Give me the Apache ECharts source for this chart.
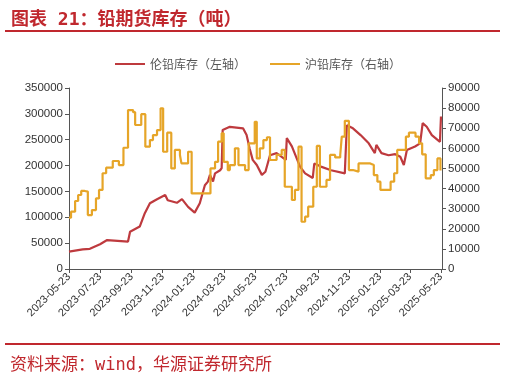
<!DOCTYPE html>
<html>
<head>
<meta charset="utf-8">
<script src="https://cdn.jsdelivr.net/npm/echarts@6/dist/echarts.min.js"></script>
<style>
html,body{margin:0;padding:0;background:#fff;}
#c{width:506px;height:377px;}
</style>
</head>
<body>
<div id="c"></div>
<script>
// LME lead stock (left axis, tonnes)
var lmeDates = ['2023-05-23','2023-06-19','2023-07-03','2023-07-23','2023-08-06','2023-09-16','2023-09-20','2023-10-09','2023-10-19','2023-10-29','2023-11-12','2023-11-28','2023-12-03','2023-12-21','2023-12-31','2024-01-12','2024-01-25','2024-02-04','2024-02-14','2024-02-20','2024-02-24','2024-03-01','2024-03-05','2024-03-15','2024-03-18','2024-03-20','2024-04-03','2024-04-29','2024-05-06','2024-05-12','2024-05-18','2024-05-26','2024-06-05','2024-06-12','2024-06-21','2024-07-04','2024-07-14','2024-07-22','2024-07-24','2024-08-03','2024-08-19','2024-08-29','2024-09-13','2024-09-16','2024-09-29','2024-10-19','2024-11-15','2024-11-19','2024-12-01','2024-12-16','2025-01-01','2025-01-13','2025-01-16','2025-01-26','2025-02-09','2025-02-22','2025-03-04','2025-03-11','2025-03-17','2025-04-02','2025-04-12','2025-04-17','2025-04-25','2025-05-05','2025-05-21','2025-05-23'];
var lmeValues = [33500,38000,39000,48000,56000,53000,72000,82000,108000,127000,135000,143000,133000,128000,135000,120000,109000,127000,162000,169000,182000,169000,185000,191000,195000,269000,275000,272000,259000,233000,211000,201000,182000,188000,220000,224000,217000,211000,253000,237000,198000,185000,176000,204000,198000,191000,185000,278000,272000,259000,243000,224000,240000,224000,220000,222000,217000,201000,230000,237000,243000,282000,275000,259000,246000,295000];

// SHFE lead stock (right axis, tonnes)
var shfeDates = ['2023-05-23','2023-05-27','2023-06-04','2023-06-10','2023-06-16','2023-06-23','2023-06-29','2023-07-07','2023-07-15','2023-07-21','2023-07-28','2023-08-04','2023-08-17','2023-08-29','2023-09-07','2023-09-16','2023-09-26','2023-09-30','2023-10-12','2023-10-20','2023-10-29','2023-11-04','2023-11-12','2023-11-19','2023-11-24','2023-12-02','2023-12-10','2023-12-17','2023-12-27','2023-12-30','2024-01-12','2024-01-19','2024-02-25','2024-03-05','2024-03-11','2024-03-18','2024-03-22','2024-03-30','2024-04-03','2024-04-13','2024-04-20','2024-05-03','2024-05-10','2024-05-22','2024-05-26','2024-06-01','2024-06-08','2024-06-15','2024-06-21','2024-07-04','2024-07-14','2024-07-20','2024-08-03','2024-08-09','2024-08-16','2024-08-22','2024-08-29','2024-09-04','2024-09-14','2024-09-21','2024-09-27','2024-10-10','2024-10-17','2024-10-27','2024-11-06','2024-11-09','2024-11-15','2024-11-23','2024-12-01','2024-12-12','2025-01-04','2025-01-11','2025-01-18','2025-01-24','2025-02-13','2025-02-20','2025-02-26','2025-03-15','2025-03-21','2025-04-03','2025-04-10','2025-04-16','2025-04-23','2025-05-03','2025-05-09','2025-05-16','2025-05-22','2025-05-23'];
var shfeValues = [25500,28500,33800,36800,38800,38500,26800,29300,35100,39300,47600,50400,53700,51700,60300,79000,78000,71600,77000,60800,64100,66600,69100,79900,58300,67800,50000,59200,56700,52500,58300,37600,50000,53300,63300,67500,53300,49200,51700,60000,51700,49200,62500,73200,55000,60000,64100,65500,54200,56700,59200,40900,34300,39300,60800,23500,26000,31000,40900,61200,40900,44300,56700,55500,56700,65800,73700,49200,48400,52500,51700,46700,43400,39300,43400,47600,59200,65800,67800,65800,62500,57000,45100,46700,49200,55000,49000,49000];

var tickDates = ['2023-05-23','2023-07-23','2023-09-23','2023-11-23','2024-01-23','2024-03-23','2024-05-23','2024-07-23','2024-09-23','2024-11-23','2025-01-23','2025-03-23','2025-05-23'];

function ts(s){var p=s.split('-');return Date.UTC(+p[0],+p[1]-1,+p[2]);}
function pad(n){return n<10?'0'+n:''+n;}
function fmt(v){var d=new Date(v);return d.getUTCFullYear()+'-'+pad(d.getUTCMonth()+1)+'-'+pad(d.getUTCDate());}

var lmeData = lmeDates.map(function(d,i){return [ts(d), lmeValues[i]];});
var shfeData = shfeDates.map(function(d,i){return [ts(d), shfeValues[i]];});
var tickVals = tickDates.map(ts);

var RED = '#BE3A3E', YEL = '#E6A528', TITLE = '#C0282E';
var chart = echarts.init(document.getElementById('c'), null, {renderer:'canvas'});
chart.setOption({
  animation:false,
  backgroundColor:'#fff',
  title:[{
    text:'图表 21：铅期货库存（吨）',
    left:6, top:6,
    textStyle:{color:TITLE, fontSize:18, fontWeight:'bold', fontFamily:"'DejaVu Sans Mono','Noto Sans CJK SC'"}
  },{
    text:'资料来源：wind，华源证券研究所',
    left:5, top:352,
    textStyle:{color:TITLE, fontSize:17, fontWeight:'normal', fontFamily:"'DejaVu Sans Mono','Noto Sans CJK SC'"}
  }],
  graphic:[
    {type:'rect', shape:{x:5,y:30,width:495,height:2}, style:{fill:TITLE}},
    {type:'rect', shape:{x:5,y:343,width:495,height:2}, style:{fill:TITLE}}
  ],
  legend:{
    top:53, left:110, itemGap:24, itemWidth:30, itemHeight:2,
    icon:'rect',
    textStyle:{color:'#555', fontSize:12, fontFamily:'Noto Sans CJK SC'},
    data:['伦铅库存（左轴）','沪铅库存（右轴）']
  },
  grid:{left:69, right:64, top:88, bottom:108, containLabel:false},
  xAxis:{
    type:'value',
    min:ts('2023-05-23'), max:ts('2025-05-25'),
    splitLine:{show:false},
    axisLine:{lineStyle:{color:'#555'}},
    axisTick:{show:true, customValues:tickVals, length:4, lineStyle:{color:'#555'}},
    axisLabel:{customValues:tickVals, rotate:45, formatter:function(v){return fmt(v);}, color:'#333', fontSize:11, fontFamily:'Liberation Sans', margin:6, hideOverlap:false, showMinLabel:true, showMaxLabel:true}
  },
  yAxis:[{
    type:'value', min:0, max:350000, interval:50000, position:'left',
    splitLine:{show:false},
    axisLine:{show:true, lineStyle:{color:'#555'}},
    axisTick:{show:true, length:4, lineStyle:{color:'#555'}},
    axisLabel:{color:'#333', fontSize:11.5, fontFamily:'Liberation Sans', margin:6, formatter:function(v){return String(v);}}
  },{
    type:'value', min:0, max:90000, interval:10000, position:'right',
    splitLine:{show:false},
    axisLine:{show:true, lineStyle:{color:'#555'}},
    axisTick:{show:true, length:4, lineStyle:{color:'#555'}},
    axisLabel:{color:'#333', fontSize:11.5, fontFamily:'Liberation Sans', margin:6, formatter:function(v){return String(v);}}
  }],
  series:[{
    name:'伦铅库存（左轴）', type:'line', yAxisIndex:0, data:lmeData,
    showSymbol:false, symbol:'none', lineStyle:{color:RED, width:2.2}, itemStyle:{color:RED}, z:2
  },{
    name:'沪铅库存（右轴）', type:'line', yAxisIndex:1, data:shfeData, step:'end',
    showSymbol:false, symbol:'none', lineStyle:{color:YEL, width:2.2}, itemStyle:{color:YEL}, z:3
  }]
});
</script>
</body>
</html>
